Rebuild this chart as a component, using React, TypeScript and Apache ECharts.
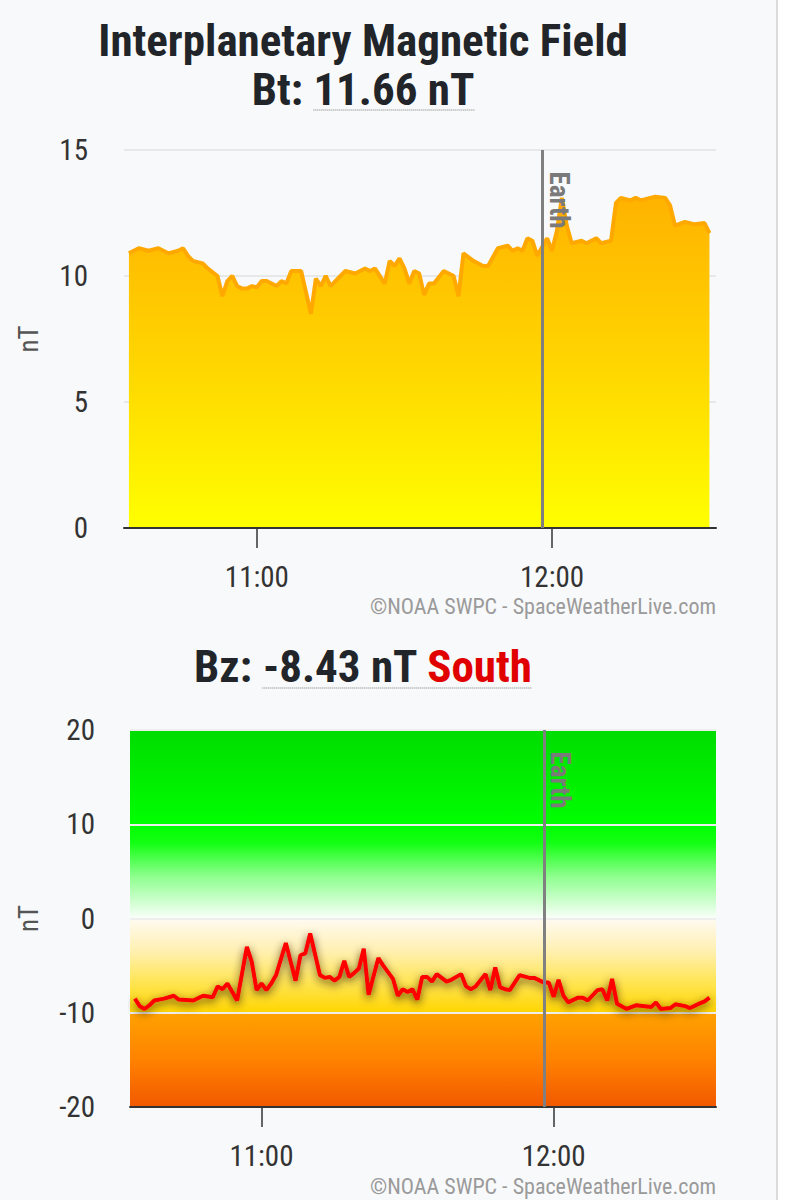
import React, { useEffect, useRef } from "react";
import * as echarts from "echarts";

const FONT = '"Liberation Sans Narrow", "Roboto Condensed", Roboto, sans-serif';

const TITLE = "Interplanetary Magnetic Field";
const BT_LABEL = "Bt: ";
const BT_VALUE = "11.66 nT";
const BZ_LABEL = "Bz: ";
const BZ_VALUE = "-8.43 nT ";
const BZ_DIRECTION = "South";
const COPYRIGHT = "©NOAA SWPC - SpaceWeatherLive.com";
const EARTH_LABEL = "Earth";
const EARTH_TIME = "11:58";
const AXIS_START = "10:33";
const AXIS_END = "12:33:20";
const TIME_TICKS = ["11:00", "12:00"];
const Y_NAME = "nT";

const btTimes = [
  "10:34", "10:36", "10:38", "10:40", "10:42", "10:44", "10:45", "10:46", "10:47", "10:49",
  "10:50", "10:52", "10:53", "10:54", "10:55", "10:56", "10:57", "10:58", "10:59", "11:00",
  "11:01", "11:02", "11:04", "11:05", "11:06", "11:07", "11:09", "11:11", "11:12", "11:13",
  "11:14", "11:15", "11:17", "11:18", "11:20", "11:22", "11:23", "11:24", "11:26", "11:27",
  "11:28", "11:29", "11:30", "11:31", "11:32", "11:33", "11:34", "11:35", "11:36", "11:38",
  "11:40", "11:41", "11:42", "11:44", "11:46", "11:47", "11:49", "11:51", "11:52", "11:53",
  "11:54", "11:55", "11:56", "11:57", "11:59", "12:00", "12:01", "12:02", "12:03", "12:04",
  "12:06", "12:07", "12:08", "12:09", "12:10", "12:12", "12:13", "12:14", "12:16", "12:17",
  "12:18", "12:20", "12:21", "12:23", "12:24", "12:25", "12:27", "12:29", "12:31", "12:32",
];
const btValues = [
  10.9, 11.1, 11.0, 11.1, 10.9, 11.0, 11.1, 10.8, 10.6, 10.5,
  10.3, 10.0, 9.2, 9.8, 10.0, 9.6, 9.5, 9.5, 9.6, 9.55,
  9.8, 9.8, 9.6, 9.8, 9.7, 10.2, 10.2, 8.5, 9.9, 9.6,
  10.0, 9.6, 10.0, 10.2, 10.1, 10.3, 10.2, 10.3, 9.7, 10.6,
  10.4, 10.7, 10.3, 9.7, 10.2, 10.1, 9.25, 9.7, 9.7, 10.2,
  10.0, 9.2, 10.9, 10.6, 10.4, 10.4, 11.1, 11.2, 11.0, 11.1,
  11.0, 11.5, 11.4, 10.8, 11.5, 11.0, 11.8, 13.1, 12.0, 11.3,
  11.4, 11.3, 11.4, 11.5, 11.3, 11.4, 12.9, 13.1, 13.0, 13.1,
  13.0, 13.1, 13.15, 13.1, 12.8, 12.0, 12.15, 12.05, 12.1, 11.7,
];

const bzTimes = [
  "10:34", "10:35", "10:36", "10:37", "10:38", "10:40", "10:42", "10:43", "10:46", "10:48",
  "10:50", "10:51", "10:52", "10:53", "10:55", "10:57", "10:58", "10:59", "11:00", "11:01",
  "11:02", "11:03", "11:05", "11:07", "11:08", "11:09", "11:10", "11:12", "11:13", "11:14",
  "11:15", "11:16", "11:17", "11:18", "11:19", "11:20", "11:21", "11:22", "11:24", "11:25",
  "11:27", "11:28", "11:29", "11:30", "11:31", "11:32", "11:33", "11:34", "11:35", "11:36",
  "11:38", "11:39", "11:41", "11:42", "11:43", "11:44", "11:46", "11:47", "11:48", "11:49",
  "11:50", "11:51", "11:53", "11:55", "11:56", "11:58", "11:59", "12:00", "12:01", "12:02",
  "12:03", "12:05", "12:06", "12:07", "12:09", "12:10", "12:11", "12:12", "12:13", "12:15",
  "12:17", "12:20", "12:21", "12:22", "12:24", "12:25", "12:27", "12:28", "12:30", "12:31",
  "12:32",
];
const bzValues = [
  -8.5, -9.3, -9.6, -9.2, -8.7, -8.5, -8.2, -8.6, -8.7, -8.2,
  -8.35, -7.2, -7.5, -6.9, -8.7, -3.0, -4.6, -7.6, -6.9, -7.6,
  -6.9, -6.0, -2.6, -6.6, -3.9, -3.7, -1.6, -6.0, -6.3, -6.2,
  -6.6, -6.2, -4.5, -6.2, -5.8, -5.3, -3.2, -8.1, -4.2, -5.0,
  -6.4, -8.2, -7.5, -7.8, -7.5, -8.6, -6.2, -6.2, -6.7, -5.9,
  -6.7, -6.5, -5.9, -7.2, -7.5, -7.2, -5.9, -7.6, -5.2, -7.3,
  -7.5, -7.6, -6.0, -6.3, -6.3, -6.8, -6.8, -8.3, -6.5, -8.2,
  -8.9, -8.4, -8.4, -8.7, -7.6, -7.5, -8.7, -6.4, -9.05, -9.6,
  -9.2, -9.4, -8.9, -9.6, -9.5, -9.1, -9.3, -9.5, -9.0, -8.8,
  -8.4,
];

// Bz background bands: [upper, lower]
const bzBands = [
  [20, 10],
  [10, 0],
  [0, -10],
  [-10, -20],
];
const bzBandColors = [
  [[0, "#00dc00"], [1, "#00ff00"]],
  [[0, "#00ff00"], [0.2, "#14ff14"], [0.55, "#8dff8d"], [1, "#fafffa"]],
  [[0, "#fffaf2"], [0.35, "#fff0b0"], [0.7, "#ffe44d"], [1, "#ffd500"]],
  [[0, "#ffa200"], [0.5, "#ff8200"], [1, "#f25800"]],
];

const toMin = (s: string) => {
  const [h, m, sec] = s.split(":").map(Number);
  return h * 60 + m + (sec || 0) / 60;
};
const fmtMin = (v: number) => {
  const h = Math.floor(v / 60);
  const m = Math.round(v - h * 60);
  return `${h}:${m < 10 ? "0" + m : m}`;
};

const measure = (text: string, font: string) => {
  const c = document.createElement("canvas").getContext("2d")!;
  c.font = font;
  return c.measureText(text).width;
};

export default function App() {
  const ref = useRef<HTMLDivElement>(null);

  useEffect(() => {
    document.body.style.margin = "0";
    const chart = echarts.init(ref.current!, null, { renderer: "svg" });

    const btData = btTimes.map((t, i) => [toMin(t), btValues[i]]);
    const bzData = bzTimes.map((t, i) => [toMin(t), bzValues[i]]);
    const earth = toMin(EARTH_TIME);
    const ticks = TIME_TICKS.map(toMin);

    const titleFont = `bold 45px ${FONT}`;
    const cx = 363;
    const btLabelW = measure(BT_LABEL, titleFont);
    const btValueW = measure(BT_VALUE, titleFont);
    const btStart = cx - (btLabelW + btValueW) / 2;
    const bzLabelW = measure(BZ_LABEL, titleFont);
    const bzValueW = measure(BZ_VALUE, titleFont);
    const bzDirW = measure(BZ_DIRECTION, titleFont);
    const bzStart = cx - (bzLabelW + bzValueW + bzDirW) / 2;

    const richTitle = (color: string) => ({
      fontSize: 45,
      fontWeight: "bold",
      fontFamily: FONT,
      fill: color,
    });

    const xAxisBase = (gridIndex: number) => ({
      type: "value",
      gridIndex,
      min: toMin(AXIS_START),
      max: toMin(AXIS_END),
      z: 4,
      axisLine: { show: true, onZero: false, lineStyle: { color: "#333", width: 2 } },
      axisTick: {
        show: true,
        customValues: ticks,
        length: 20,
        lineStyle: { color: "#333", width: 1.5 },
      },
      axisLabel: {
        customValues: ticks,
        formatter: (v: number) => fmtMin(v),
        margin: 34,
        fontSize: 29,
        color: "#333",
        fontFamily: FONT,
      },
      splitLine: { show: false },
    });

    const earthMarkLine = {
      silent: true,
      symbol: ["none", "none"],
      label: { show: false },
      lineStyle: { color: "#808080", width: 3, type: "solid" },
      data: [{ xAxis: earth }],
    };
    const earthMarkPoint = (yTop: number) => ({
      silent: true,
      symbol: "circle",
      symbolSize: 1,
      itemStyle: { color: "rgba(0,0,0,0)" },
      label: {
        show: true,
        formatter: EARTH_LABEL,
        position: [17, 22],
        rotate: -90,
        align: "left",
        verticalAlign: "middle",
        color: "#7a7a7a",
        fontSize: 27,
        fontWeight: "bold",
        fontFamily: FONT,
      },
      data: [{ coord: [earth, yTop] }],
    });

    const grad = (stops: any[]) =>
      new echarts.graphic.LinearGradient(
        0, 0, 0, 1,
        stops.map(([offset, color]) => ({ offset, color }))
      );

    chart.setOption({
      animation: false,
      backgroundColor: "#f8f9fa",
      grid: [
        { left: 124, right: 76, top: 150, bottom: 672 },
        { left: 130, right: 76, top: 730, bottom: 93 },
      ],
      xAxis: [xAxisBase(0), xAxisBase(1)],
      yAxis: [
        {
          type: "value",
          gridIndex: 0,
          min: 0,
          max: 15,
          interval: 5,
          name: Y_NAME,
          nameLocation: "middle",
          nameGap: 82,
          nameTextStyle: { fontSize: 27, color: "#555", fontFamily: FONT },
          axisLine: { show: false },
          axisTick: { show: false },
          axisLabel: { fontSize: 29, color: "#333", margin: 36, fontFamily: FONT },
          splitLine: { lineStyle: { color: "#e2e2e2", width: 1.5 } },
        },
        {
          type: "value",
          gridIndex: 1,
          min: -20,
          max: 20,
          interval: 10,
          z: 2,
          name: Y_NAME,
          nameLocation: "middle",
          nameGap: 88,
          nameTextStyle: { fontSize: 27, color: "#555", fontFamily: FONT },
          axisLine: { show: false },
          axisTick: { show: false },
          axisLabel: { fontSize: 29, color: "#333", margin: 35, fontFamily: FONT },
          splitLine: { lineStyle: { color: "#eeeeee", width: 2 } },
        },
      ],
      series: [
        {
          type: "line",
          xAxisIndex: 0,
          yAxisIndex: 0,
          data: btData,
          showSymbol: false,
          lineStyle: { color: "#ffa800", width: 4 },
          areaStyle: {
            opacity: 1,
            color: grad([[0, "#ffb300"], [0.5, "#ffd500"], [1, "#ffff00"]]),
          },
          markLine: earthMarkLine,
          markPoint: earthMarkPoint(15),
        },
        {
          type: "line",
          xAxisIndex: 1,
          yAxisIndex: 1,
          data: [],
          z: 1,
          markArea: {
            silent: true,
            data: bzBands.map(([hi, lo], i) => [
              { yAxis: hi, itemStyle: { color: grad(bzBandColors[i]) } },
              { yAxis: lo },
            ]),
          },
        },
        {
          type: "line",
          xAxisIndex: 1,
          yAxisIndex: 1,
          z: 3,
          data: bzData,
          showSymbol: false,
          lineStyle: {
            color: "#ff0000",
            width: 4,
            shadowColor: "rgba(60,40,0,0.85)",
            shadowBlur: 9,
            shadowOffsetY: 3,
          },
          markLine: earthMarkLine,
          markPoint: earthMarkPoint(20),
        },
      ],
      graphic: [
        { type: "rect", shape: { x: 777, y: 0, width: 15, height: 1200 }, style: { fill: "#ffffff" } },
        { type: "line", shape: { x1: 777, y1: 0, x2: 777, y2: 1200 }, style: { stroke: "#d0d0d0", lineWidth: 1.5 } },
        {
          type: "text",
          x: cx,
          y: 40,
          style: {
            text: TITLE,
            font: titleFont,
            fill: "#212529",
            align: "center",
            verticalAlign: "middle",
          },
        },
        {
          type: "text",
          x: cx,
          y: 89,
          style: {
            text: `{a|${BT_LABEL}}{a|${BT_VALUE}}`,
            rich: { a: richTitle("#212529") },
            align: "center",
            verticalAlign: "middle",
          },
        },
        {
          type: "line",
          shape: { x1: btStart + btLabelW, y1: 110, x2: btStart + btLabelW + btValueW, y2: 110 },
          style: { stroke: "#777", lineWidth: 1, lineDash: [1, 1] },
        },
        {
          type: "text",
          x: cx,
          y: 666,
          style: {
            text: `{a|${BZ_LABEL}}{a|${BZ_VALUE}}{r|${BZ_DIRECTION}}`,
            rich: { a: richTitle("#212529"), r: richTitle("#e00000") },
            align: "center",
            verticalAlign: "middle",
          },
        },
        {
          type: "line",
          shape: {
            x1: bzStart + bzLabelW,
            y1: 688,
            x2: bzStart + bzLabelW + bzValueW + bzDirW,
            y2: 688,
          },
          style: { stroke: "#777", lineWidth: 1, lineDash: [1, 1] },
        },
        {
          type: "text",
          x: 716,
          y: 606,
          style: {
            text: COPYRIGHT,
            font: `22px ${FONT}`,
            fill: "#9a9a9a",
            align: "right",
            verticalAlign: "middle",
          },
        },
        {
          type: "text",
          x: 716,
          y: 1186,
          style: {
            text: COPYRIGHT,
            font: `22px ${FONT}`,
            fill: "#9a9a9a",
            align: "right",
            verticalAlign: "middle",
          },
        },
      ],
    });

    return () => chart.dispose();
  }, []);

  return <div ref={ref} style={{ width: 792, height: 1200 }} />;
}
